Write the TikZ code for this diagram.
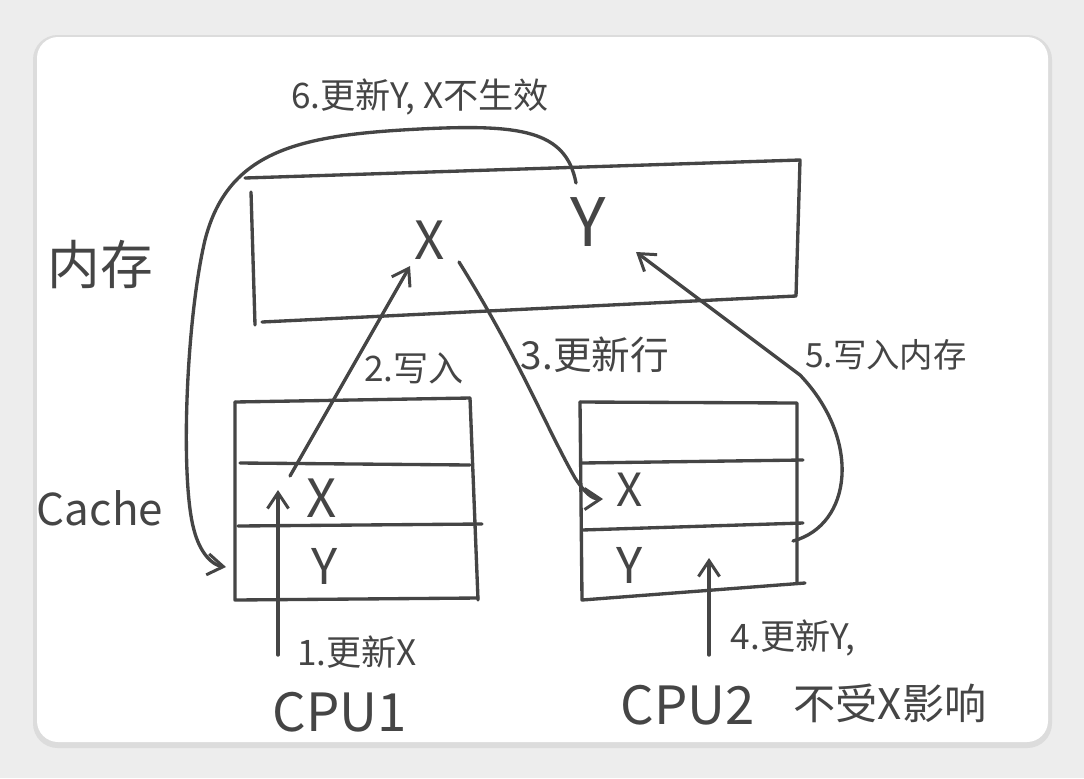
\documentclass[tikz,border=0pt]{standalone}
\usepackage{fontspec}
\newfontfamily\cjk{Noto Sans CJK SC}
\usetikzlibrary{arrows.meta}
\definecolor{ink}{HTML}{454545}
\definecolor{bgout}{HTML}{EDEDED}
\definecolor{shad}{HTML}{DCDCDC}
\tikzset{
  pen/.style={draw=ink, line width=1.9pt, line cap=round, line join=round},
  arr/.style={pen, -{Straight Barb[length=9pt,width=12pt,line width=1.7pt]}},
  txt/.style={font=\cjk, text=ink, inner sep=0pt},
  lbl/.style={txt, font=\cjk\fontsize{20}{24}\selectfont},
}
\begin{document}
\begin{tikzpicture}[x=0.02cm,y=-0.02cm]
\useasboundingbox (0,0) rectangle (1084,778);
% background card
\fill[bgout] (0,0) rectangle (1084,778);
\fill[shad, rounded corners=14] (33,35) rectangle (1052,748);
\fill[white, rounded corners=12] (37,37) rectangle (1048,742);

% memory box
\draw[pen] (245,178) -- (800,160) -- (796,296) -- (262,322);
\draw[pen] (251,192) -- (255,325);
\node[txt, font=\cjk\fontsize{30}{34}\selectfont] (mem) at (100,265) {内存};
\node[txt, font=\cjk\fontsize{30}{34}\selectfont] (mx) at (430,240) {X};
\node[txt, font=\cjk\fontsize{38}{42}\selectfont] (my) at (588,222) {Y};

% cache label
\node[txt, font=\cjk\fontsize{25}{30}\selectfont] (cache) at (100,508) {Cache};

% CPU1 cache
\draw[pen] (235,402) -- (470,398);
\draw[pen] (470,398) -- (478,600);
\draw[pen] (235,402) -- (235,600) -- (478,598);
\draw[pen] (240,463) -- (470,465);
\draw[pen] (238,526) -- (482,524);
\node[txt, font=\cjk\fontsize{30}{34}\selectfont] (c1x) at (322,498) {X};
\node[txt, font=\cjk\fontsize{28}{32}\selectfont] (c1y) at (325,566) {Y};

% CPU2 cache
\draw[pen] (580,402) -- (797,403) -- (797,582);
\draw[pen] (580,402) -- (582,600) -- (805,583);
\draw[pen] (582,463) -- (803,460);
\draw[pen] (582,530) -- (803,523);
\node[txt, font=\cjk\fontsize{26}{30}\selectfont] (c2x) at (630,490) {X};
\node[txt, font=\cjk\fontsize{28}{32}\selectfont] (c2y) at (630,565) {Y};

% CPUs
\node[txt, font=\cjk\fontsize{30}{34}\selectfont] (cpu1) at (340,712) {CPU1};
\node[txt, font=\cjk\fontsize{30}{34}\selectfont] (cpu2) at (688,705) {CPU2};

% step labels
\node[lbl] (l1) at (357,652) {1.更新X};
\node[lbl] (l2) at (414,368) {2.写入};
\node[lbl, font=\cjk\fontsize{22}{26}\selectfont] (l3) at (595,355) {3.更新行};
\node[lbl] (l4) at (793,638) {4.更新Y,};
\node[lbl, font=\cjk\fontsize{24}{28}\selectfont] (l4b) at (890,703) {不受X影响};
\node[lbl, font=\cjk\fontsize{19}{23}\selectfont] (l5) at (886,355) {5.写入内存};
\node[lbl] (l6) at (420,97) {6.更新Y, X不生效};

% anchor coordinates
\coordinate (a1s) at (278,655);
\coordinate (a1e) at (278,490);
\coordinate (a2s) at (290,476);
\coordinate (a2e) at (410,266);
\coordinate (a3s) at (459,262);
\coordinate (a3e) at (603,499);
\coordinate (a4s) at (709,655);
\coordinate (a4e) at (709,558);
\coordinate (a5s) at (793,541);
\coordinate (a5m) at (800,375);
\coordinate (a5e) at (636,252);
\coordinate (a6s) at (576,183);
\coordinate (a6e) at (226,567);

% arrows
\draw[arr] (a1s) -- (a1e);
\draw[arr] (a2s) -- (a2e);
\draw[arr] (a3s) .. controls (520,360) and (545,425) .. (575,478) .. controls (585,493) and (592,499) .. (a3e);
\draw[arr] (a4s) -- (a4e);
\draw[arr] (a5s) .. controls (852,525) and (862,440) .. (a5m) -- (a5e);
\draw[arr] (a6s) .. controls (566,130) and (520,124) .. (420,129)
  .. controls (300,135) and (228,150) .. (205,240)
  .. controls (186,320) and (180,480) .. (194,530)
  .. controls (200,553) and (212,565) .. (a6e);
\end{tikzpicture}
\end{document}
